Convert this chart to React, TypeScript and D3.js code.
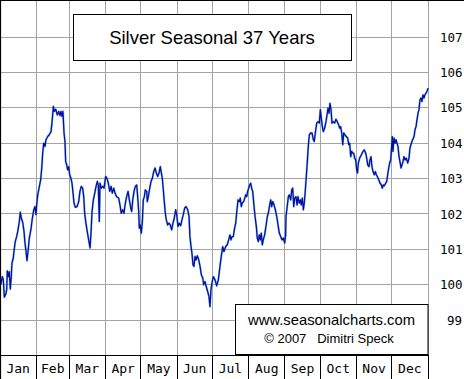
import React from "react";
import * as d3 from "d3";

const monthNames = ["Jan", "Feb", "Mar", "Apr", "May", "Jun", "Jul", "Aug", "Sep", "Oct", "Nov", "Dec"];
const monthDays = [31, 28, 31, 30, 31, 30, 31, 31, 30, 31, 30, 31];
const yTicks = [99, 100, 101, 102, 103, 104, 105, 106, 107];

// day of year (0 = Jan 1)
const days = [
  0, 0.85, 2.0, 2.8, 3.7, 4.9, 5.7, 6.2, 7.1, 7.9, 8.8, 9.6, 10.2, 11.3, 11.9, 13.0, 14.2, 15.1, 16.5, 17.3,
  18.2, 19.4, 20.5, 21.3, 22.2, 23.0, 23.9, 25.0, 26.4, 27.5, 28.7, 29.8, 30.7, 31.3, 32.2, 33.3, 34.7, 35.6, 36.4, 37.3,
  38.4, 39.2, 40.7, 42.0, 43.5, 44.3, 44.9, 45.5, 46.3, 47.5, 48.9, 50.1, 51.2, 52.0, 52.9, 53.7, 54.6, 55.4, 56.0, 56.9,
  57.7, 58.6, 59.4, 60.5, 61.4, 62.3, 63.1, 64.2, 65.7, 67.1, 68.2, 69.3, 70.5, 71.4, 72.2, 73.3, 74.4, 75.6, 76.8, 77.6,
  78.5, 79.6, 80.8, 81.9, 83.0, 83.8, 84.7, 85.3, 86.4, 87.6, 88.7, 90.1, 91.2, 92.4, 93.6, 94.7, 95.8, 97.0, 98.1, 99.5,
  101.2, 102.3, 103.4, 104.6, 105.7, 106.9, 108.0, 109.2, 110.3, 111.5, 112.3, 113.2, 114.3, 115.4, 116.6, 117.4, 118.3, 118.8, 119.6, 120.5,
  121.4, 122.2, 123.1, 123.9, 125.1, 125.6, 126.5, 127.7, 128.8, 129.9, 131.1, 132.2, 133.3, 134.5, 135.6, 136.7, 137.6, 138.4, 139.3, 140.1,
  141.0, 141.8, 143.0, 144.1, 145.2, 146.4, 147.5, 148.6, 149.8, 150.7, 151.8, 152.9, 154.1, 155.2, 156.3, 157.5, 158.6, 160.1, 161.2, 162.0,
  162.9, 163.7, 164.6, 165.4, 166.3, 167.1, 168.3, 169.5, 170.6, 171.7, 172.9, 173.7, 174.8, 175.9, 177.1, 178.2, 179.1, 179.9, 180.8, 181.9,
  183.4, 184.8, 186.2, 187.6, 188.7, 189.9, 191.0, 192.5, 193.8, 195.0, 196.1, 197.0, 197.8, 199.0, 199.8, 201.0, 202.1, 203.0, 204.1, 204.9,
  205.8, 206.6, 207.8, 208.7, 209.5, 210.4, 211.2, 212.1, 212.9, 213.8, 214.6, 215.5, 216.4, 217.5, 218.6, 219.4, 220.3, 221.1, 222.0, 222.8,
  223.7, 224.5, 225.7, 226.8, 228.0, 229.1, 230.0, 230.9, 231.7, 232.6, 233.7, 234.8, 236.0, 237.1, 238.2, 239.4, 240.5, 241.6, 242.8, 243.6,
  243.9, 244.8, 245.9, 246.7, 247.9, 248.8, 249.6, 250.5, 251.3, 252.4, 253.3, 254.1, 255.2, 256.1, 256.9, 257.8, 258.7, 259.5, 260.4, 261.2,
  262.1, 262.9, 263.8, 265.0, 266.1, 267.2, 268.0, 268.9, 270.1, 271.2, 272.3, 273.2, 274.0, 274.9, 275.7, 276.9, 278.0, 278.9, 279.7, 280.6,
  281.4, 282.3, 283.1, 284.2, 285.4, 286.5, 287.6, 288.8, 289.7, 290.5, 291.4, 292.3, 293.1, 294.2, 295.3, 296.5, 297.4, 298.2, 299.1, 299.9,
  300.8, 301.6, 302.5, 303.3, 304.2, 304.9, 305.6, 306.7, 308.1, 309.6, 310.7, 311.9, 312.7, 313.6, 314.7, 315.5, 316.4, 317.2, 318.1, 319.2,
  320.1, 320.9, 321.8, 323.0, 324.1, 325.2, 326.0, 326.9, 327.7, 328.9, 329.8, 330.6, 331.5, 332.3, 333.2, 334.0, 334.5, 335.1, 336.0, 336.9,
  337.7, 338.6, 339.4, 340.3, 341.1, 342.0, 342.8, 343.7, 344.5, 345.4, 346.5, 347.7, 348.8, 349.6, 350.8, 351.9, 353.1, 353.9, 354.8, 355.6,
  356.5, 357.3, 358.2, 359.0, 359.9, 360.7, 361.6, 362.4, 363.3, 364.1, 365,
];

const values = [
  100.09, 100.03, 100.23, 100.14, 99.65, 99.73, 99.86, 100.39, 100.23, 100.37, 99.88, 100.22, 100.61, 100.75, 100.94, 101.22, 101.36, 101.5, 101.79, 102.05,
  101.88, 101.76, 101.5, 101.18, 100.94, 100.68, 100.94, 101.32, 101.57, 101.86, 102.1, 102.21, 101.98, 102.26, 102.54, 102.73, 102.97, 103.3, 103.72, 104.0,
  103.91, 104.1, 104.19, 104.24, 104.33, 104.57, 104.8, 105.04, 104.9, 104.96, 104.8, 104.9, 104.78, 104.9, 104.76, 104.9, 104.29, 104.05, 103.48, 103.39,
  103.25, 103.34, 103.11, 103.01, 102.87, 102.59, 102.31, 102.19, 102.21, 102.35, 102.64, 102.78, 102.73, 102.49, 102.02, 101.74, 101.5, 101.27, 101.04, 101.46,
  102.07, 102.4, 102.59, 102.78, 102.92, 102.82, 101.79, 102.87, 102.73, 102.78, 102.73, 103.06, 103.01, 102.87, 102.64, 102.78, 102.59, 102.73, 102.59, 102.49,
  102.45, 102.26, 102.02, 102.12, 102.02, 102.31, 102.49, 102.64, 102.4, 102.17, 102.07, 102.4, 102.64, 102.78, 102.82, 102.49, 102.07, 101.6, 101.69, 101.46,
  101.79, 102.4, 102.49, 102.68, 102.64, 102.35, 102.49, 102.73, 102.92, 103.01, 103.2, 103.3, 103.16, 103.06, 103.16, 103.34, 103.16, 103.01, 102.68, 102.35,
  102.02, 101.84, 101.69, 101.74, 101.69, 101.55, 101.74, 101.88, 102.12, 101.98, 101.65, 101.74, 101.67, 101.84, 101.98, 102.17, 102.21, 102.12, 101.93, 101.36,
  101.08, 100.89, 100.56, 100.52, 100.8, 100.7, 100.82, 100.7, 100.52, 100.28, 100.19, 100.0, 100.09, 99.95, 99.81, 99.67, 99.38, 99.86, 100.05, 100.23,
  100.14, 99.97, 100.14, 100.52, 100.8, 101.08, 100.94, 101.08, 101.13, 101.27, 101.41, 101.27, 101.36, 101.36, 101.55, 101.74, 102.12, 102.4, 102.35, 102.45,
  102.21, 102.31, 102.35, 102.45, 102.54, 102.49, 102.64, 102.73, 102.82, 102.87, 102.73, 102.64, 102.31, 101.93, 101.65, 101.32, 101.22, 101.41, 101.27, 101.46,
  101.13, 101.27, 101.41, 101.65, 101.93, 102.07, 102.26, 102.4, 102.21, 102.35, 102.26, 102.12, 101.93, 101.69, 101.46, 101.36, 101.27, 101.32, 101.18, 101.41,
  101.93, 102.17, 102.49, 102.54, 102.4, 102.68, 102.73, 102.21, 102.45, 102.49, 102.26, 102.49, 102.31, 102.4, 102.26, 102.45, 102.12, 102.31, 102.68, 103.06,
  103.48, 103.91, 104.24, 104.29, 104.29, 104.1, 104.05, 104.29, 104.57, 104.61, 104.57, 104.95, 104.71, 104.47, 104.33, 104.43, 104.61, 104.8, 104.99, 104.85,
  105.13, 104.95, 104.57, 104.61, 104.57, 104.68, 104.61, 104.52, 104.43, 104.47, 104.29, 103.96, 104.29, 104.24, 104.19, 104.15, 103.96, 104.0, 103.62, 103.77,
  103.72, 103.72, 103.58, 103.53, 103.25, 103.16, 103.44, 103.58, 103.67, 103.77, 103.81, 103.72, 103.58, 103.39, 103.34, 103.53, 103.62, 103.34, 103.2, 103.11,
  103.2, 103.11, 103.06, 102.97, 102.87, 102.82, 102.73, 102.82, 102.8, 102.87, 102.92, 103.11, 103.3, 103.44, 103.53, 103.91, 104.19, 103.77, 104.15, 104.0,
  104.1, 104.0, 103.91, 103.62, 103.48, 103.3, 103.39, 103.48, 103.62, 103.53, 103.58, 103.44, 103.58, 103.86, 104.0, 104.1, 104.19, 104.38, 104.47, 104.66,
  104.85, 104.95, 105.23, 105.28, 105.18, 105.37, 105.28, 105.37, 105.42, 105.46, 105.56,
];

const title = "Silver Seasonal 37 Years";
const creditLines = ["www.seasonalcharts.com", "\u00a9 2007   Dimitri Speck"];

const W = 464;
const H = 379;
const plotRight = 428;
const plotBottom = 355.5;

export default function App() {
  const x = d3.scaleLinear().domain([0, 365]).range([0, plotRight]);
  const y = d3.scaleLinear().domain([98, 108]).range([355.5, 1.75]);

  const bounds = d3.cumsum(monthDays);
  const starts = [0, ...Array.from(bounds).slice(0, 11)];
  const crisp = (v: number) => Math.floor(v) + 0.5;

  const pts = days.map((d, i) => [d, values[i]] as [number, number]);
  const line = d3
    .line<[number, number]>()
    .x((p) => x(p[0]))
    .y((p) => y(p[1]));
  const path = line(pts) || "";

  const grid = "#a4a4a4";
  const axisFont = "'DejaVu Sans Mono', monospace";

  return (
    <svg
      width={W}
      height={H}
      style={{ position: "absolute", left: 0, top: 0, background: "#fff" }}
    >
      <rect x={0} y={0} width={W} height={H} fill="#fff" />
      {/* horizontal grid */}
      {yTicks.map((t) => (
        <line key={"h" + t} x1={0} x2={plotRight + 1} y1={crisp(y(t))} y2={crisp(y(t))} stroke={grid} strokeWidth={1} />
      ))}
      {/* vertical grid */}
      {Array.from(bounds).map((b, i) => (
        <line key={"v" + i} x1={crisp(x(b))} x2={crisp(x(b))} y1={0} y2={plotBottom} stroke={grid} strokeWidth={1} />
      ))}
      {/* series */}
      <path d={path} fill="none" stroke="#3ab0d0" strokeWidth={2.2} strokeOpacity={0.55} strokeLinejoin="round" />
      <path d={path} fill="none" stroke="#0a0aa8" strokeWidth={1.3} strokeLinejoin="round" />
      {/* frame */}
      <line x1={0} x2={W} y1={0.5} y2={0.5} stroke="#000" strokeWidth={1.2} />
      <line x1={0.5} x2={0.5} y1={0} y2={H} stroke="#000" strokeWidth={1.2} />
      <line x1={0} x2={plotRight + 1} y1={plotBottom} y2={plotBottom} stroke="#000" strokeWidth={1} />
      {Array.from(bounds).map((b, i) => (
        <line key={"t" + i} x1={crisp(x(b))} x2={crisp(x(b))} y1={plotBottom} y2={H} stroke="#000" strokeWidth={1} />
      ))}
      {/* month labels */}
      {monthNames.map((m, i) => (
        <text
          key={m}
          x={(x(starts[i]) + x(bounds[i])) / 2}
          y={372.5}
          textAnchor="middle"
          fontFamily={axisFont}
          fontSize={13}
          fill="#000"
        >
          {m}
        </text>
      ))}
      {/* right axis labels */}
      {yTicks.map((t) => (
        <text
          key={"l" + t}
          x={t >= 100 ? 440 : 447}
          y={y(t) + 4.5}
          fontFamily={axisFont}
          fontSize={12.5}
          fill="#000"
        >
          {t}
        </text>
      ))}
      {/* title box */}
      <rect x={73.5} y={14.5} width={278} height={46} fill="#fff" stroke="#000" strokeWidth={1} />
      <text x={212} y={43.5} textAnchor="middle" fontFamily="'Liberation Sans', Arial, sans-serif" fontSize={18.5} fill="#000">
        {title}
      </text>
      {/* credit box */}
      <rect x={235.5} y={304.5} width={192.5} height={50} fill="#fff" stroke="#000" strokeWidth={1} />
      <text x={331.5} y={325} textAnchor="middle" fontFamily="'Liberation Sans', Arial, sans-serif" fontSize={14.8} fill="#000">
        {creditLines[0]}
      </text>
      <text x={329} y={342.5} textAnchor="middle" fontFamily="'Liberation Sans', Arial, sans-serif" fontSize={13} fill="#000" style={{ whiteSpace: "pre" }}>
        {creditLines[1]}
      </text>
    </svg>
  );
}
